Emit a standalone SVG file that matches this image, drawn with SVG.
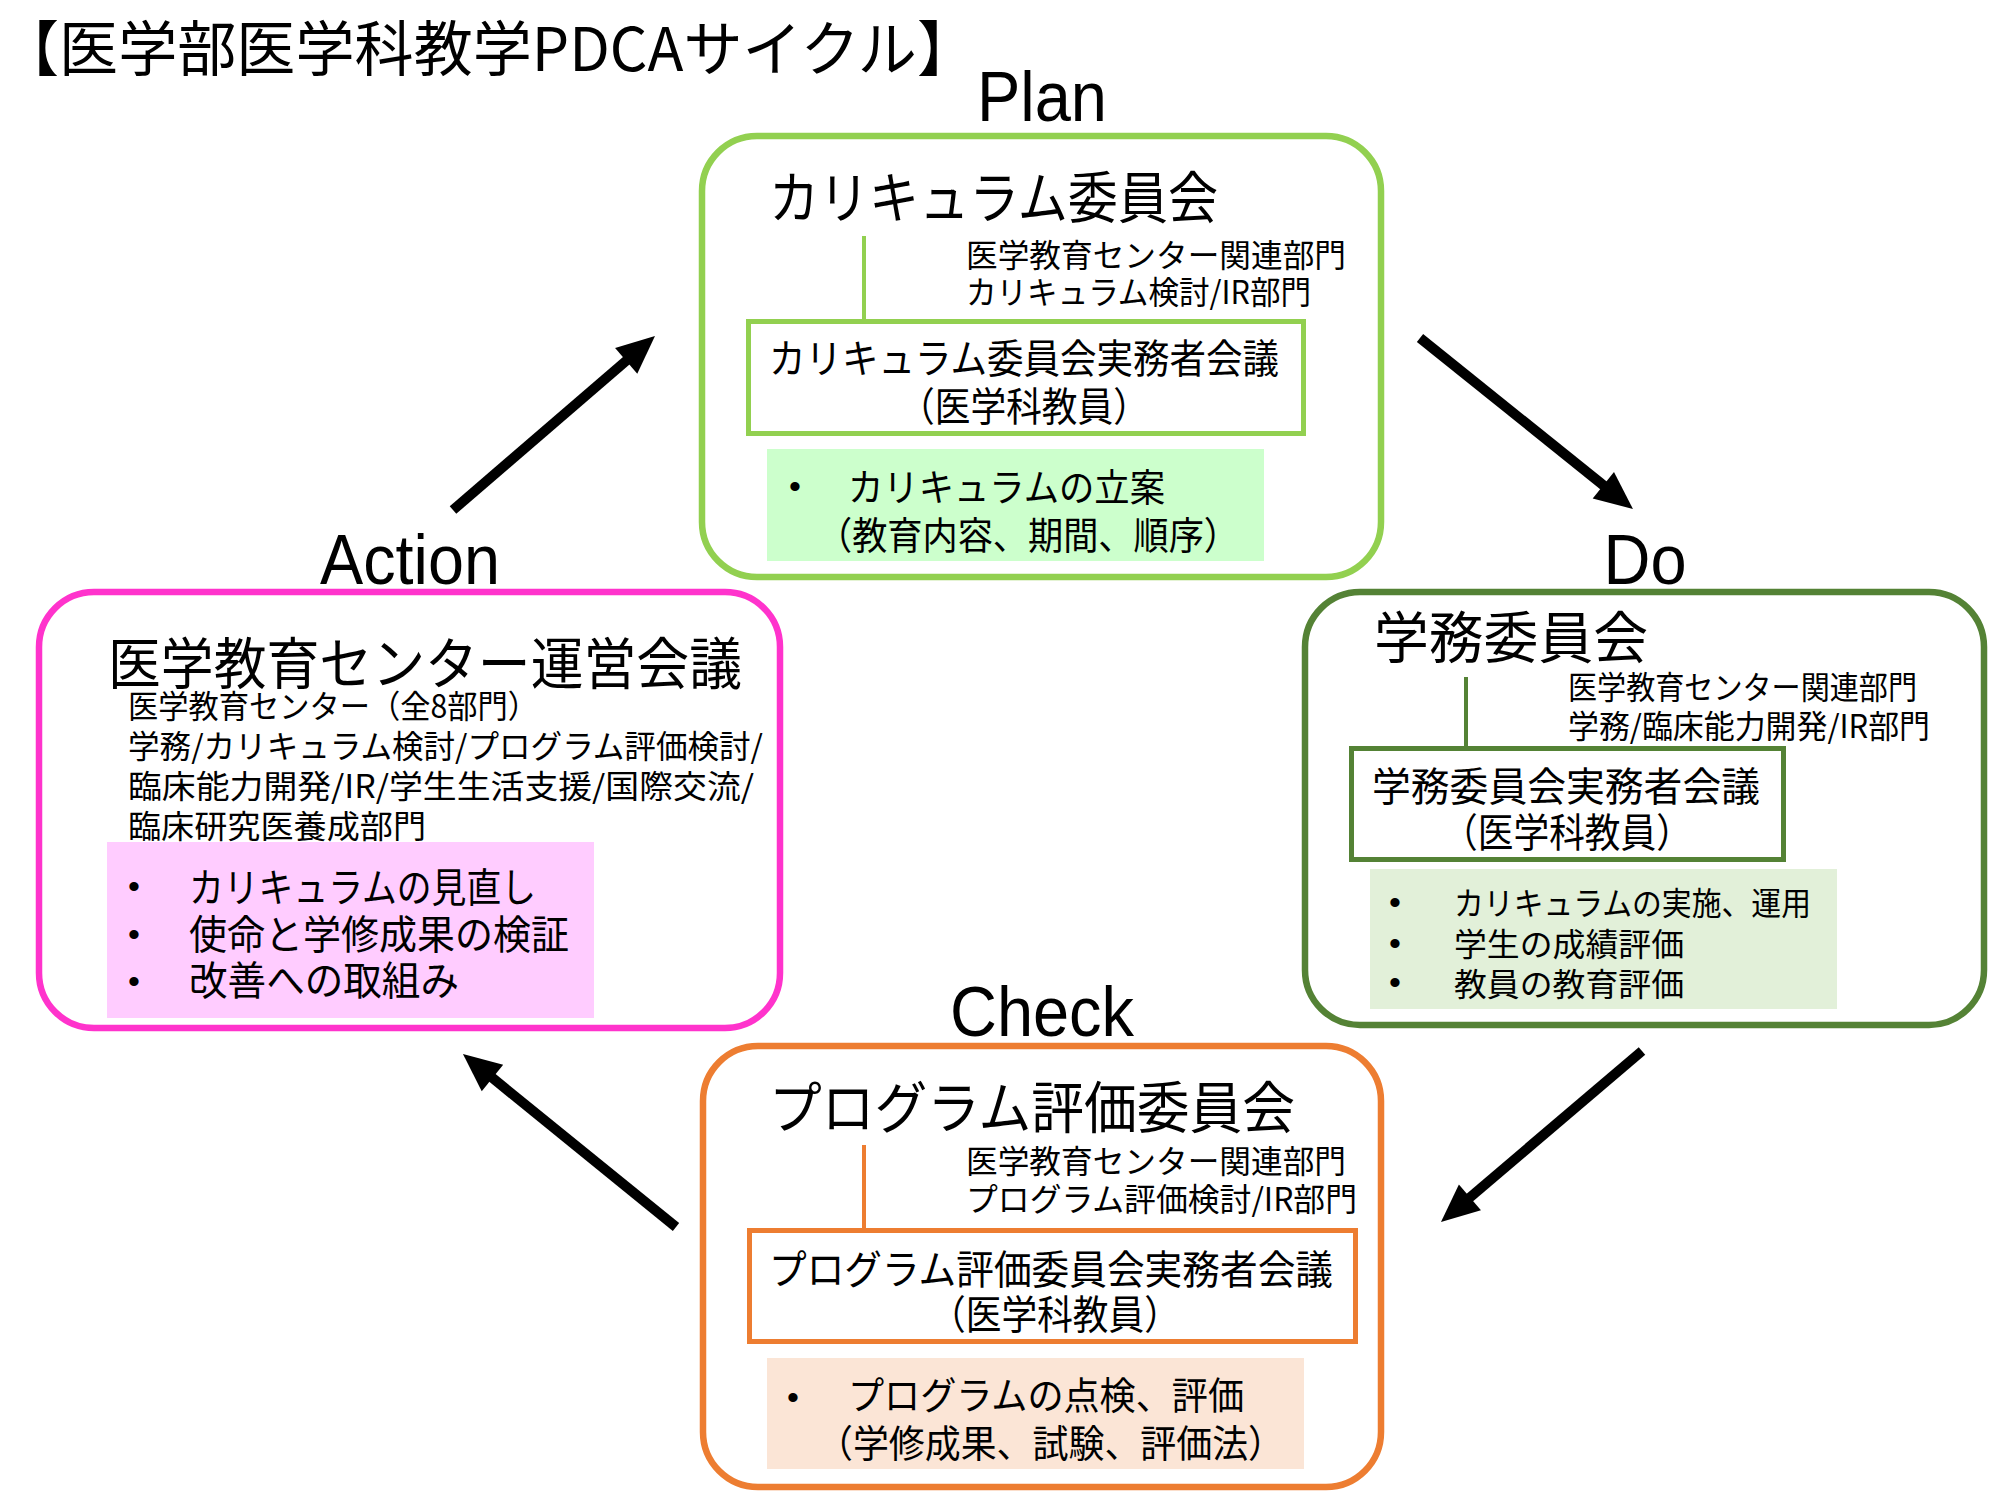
<svg xmlns="http://www.w3.org/2000/svg" width="2000" height="1500" viewBox="0 0 2000 1500">
<style>
text{font-family:"Noto Sans CJK JP","Liberation Sans",sans-serif;fill:#000}
.lat{font-family:"Liberation Sans",Arial,sans-serif;font-size:70px}
.title{font-size:60px}
.com{font-size:56px}
.dept{font-size:32px}
.inner{font-size:40px}
.item{font-size:38px}
.bul{font-family:"Liberation Sans",Arial,sans-serif;font-size:34px;text-anchor:middle}
.mid{text-anchor:middle}
.outer{fill:#fff;stroke-width:6.5}
.box{fill:#fff;stroke-width:5}
.arrow{stroke:#000;stroke-width:10;fill:none;marker-end:url(#ah)}
</style>
<defs>
<marker id="ah" markerUnits="strokeWidth" markerWidth="4" markerHeight="3.4" refX="0.2" refY="1.7" orient="auto" overflow="visible">
<path d="M0,0 L3.8,1.7 L0,3.4 z" fill="#000"/>
</marker>
</defs>
<rect width="2000" height="1500" fill="#fff"/>
<text class="title" x="0" y="71" textLength="976" lengthAdjust="spacingAndGlyphs">【医学部医学科教学PDCAサイクル】</text>

<g id="plan">
<text class="lat mid" x="1042" y="121" textLength="130" lengthAdjust="spacingAndGlyphs">Plan</text>
<rect class="outer" x="702" y="136" width="679" height="441" rx="55" stroke="#92D050"/>
<text class="com" x="769" y="218" textLength="449" lengthAdjust="spacingAndGlyphs">カリキュラム委員会</text>
<line x1="864" y1="236" x2="864" y2="320" stroke="#92D050" stroke-width="4"/>
<text class="dept" x="966" y="267" textLength="380" lengthAdjust="spacingAndGlyphs">医学教育センター関連部門</text>
<text class="dept" x="966" y="304" textLength="345" lengthAdjust="spacingAndGlyphs">カリキュラム検討/IR部門</text>
<rect class="box" x="748.5" y="321.5" width="555" height="112" stroke="#92D050"/>
<text class="inner" x="769" y="373" textLength="510" lengthAdjust="spacingAndGlyphs">カリキュラム委員会実務者会議</text>
<text class="inner mid" x="1024" y="421" textLength="250" lengthAdjust="spacingAndGlyphs">（医学科教員）</text>
<rect x="767" y="449" width="497" height="112" fill="#CCFFCC"/>
<text class="bul" x="795" y="498">•</text>
<text class="item" x="848" y="501" textLength="317" lengthAdjust="spacingAndGlyphs">カリキュラムの立案</text>
<text class="item" x="817" y="549" textLength="422" lengthAdjust="spacingAndGlyphs">（教育内容、期間、順序）</text>
</g>

<g id="do">
<text class="lat mid" x="1645" y="584" textLength="83" lengthAdjust="spacingAndGlyphs">Do</text>
<rect class="outer" x="1305" y="592" width="679" height="433" rx="55" stroke="#548235"/>
<text class="com" x="1374" y="658" textLength="274" lengthAdjust="spacingAndGlyphs">学務委員会</text>
<line x1="1466" y1="677" x2="1466" y2="747" stroke="#548235" stroke-width="4"/>
<text class="dept" x="1568" y="699" textLength="349" lengthAdjust="spacingAndGlyphs">医学教育センター関連部門</text>
<text class="dept" x="1568" y="738" textLength="362" lengthAdjust="spacingAndGlyphs">学務/臨床能力開発/IR部門</text>
<rect class="box" x="1351.5" y="748.5" width="432" height="111" stroke="#548235"/>
<text class="inner" x="1372" y="801" textLength="388" lengthAdjust="spacingAndGlyphs">学務委員会実務者会議</text>
<text class="inner mid" x="1567" y="847" textLength="250" lengthAdjust="spacingAndGlyphs">（医学科教員）</text>
<rect x="1370" y="869" width="467" height="140" fill="#E2F0D9"/>
<text class="bul" x="1395" y="914">•</text>
<text class="bul" x="1395" y="955">•</text>
<text class="bul" x="1395" y="994">•</text>
<text class="dept" x="1454" y="915" font-size="34" textLength="357" lengthAdjust="spacingAndGlyphs">カリキュラムの実施、運用</text>
<text class="dept" x="1454" y="956" font-size="34" textLength="230" lengthAdjust="spacingAndGlyphs">学生の成績評価</text>
<text class="dept" x="1454" y="996" font-size="34" textLength="230" lengthAdjust="spacingAndGlyphs">教員の教育評価</text>
</g>

<g id="check">
<text class="lat mid" x="1042" y="1036" textLength="184" lengthAdjust="spacingAndGlyphs">Check</text>
<rect class="outer" x="703" y="1046" width="678" height="441" rx="55" stroke="#ED7D31"/>
<text class="com" x="769" y="1128" textLength="526" lengthAdjust="spacingAndGlyphs">プログラム評価委員会</text>
<line x1="864" y1="1145" x2="864" y2="1229" stroke="#ED7D31" stroke-width="4"/>
<text class="dept" x="966" y="1173" textLength="380" lengthAdjust="spacingAndGlyphs">医学教育センター関連部門</text>
<text class="dept" x="966" y="1211" textLength="391" lengthAdjust="spacingAndGlyphs">プログラム評価検討/IR部門</text>
<rect class="box" x="749.5" y="1230.5" width="606" height="111" stroke="#ED7D31"/>
<text class="inner" x="769" y="1284" textLength="564" lengthAdjust="spacingAndGlyphs">プログラム評価委員会実務者会議</text>
<text class="inner mid" x="1055" y="1329" textLength="250" lengthAdjust="spacingAndGlyphs">（医学科教員）</text>
<rect x="767" y="1358" width="537" height="111" fill="#FBE5D6"/>
<text class="bul" x="793" y="1409">•</text>
<text class="item" x="848" y="1409" textLength="396" lengthAdjust="spacingAndGlyphs">プログラムの点検、評価</text>
<text class="item" x="817" y="1457" textLength="467" lengthAdjust="spacingAndGlyphs">（学修成果、試験、評価法）</text>
</g>

<g id="action">
<text class="lat mid" x="410" y="584" textLength="180" lengthAdjust="spacingAndGlyphs">Action</text>
<rect class="outer" x="39" y="592" width="741" height="436" rx="55" stroke="#FF33CC"/>
<text class="com" x="108" y="684" textLength="634" lengthAdjust="spacingAndGlyphs">医学教育センター運営会議</text>
<text class="dept" x="128" y="718" font-size="33" textLength="410" lengthAdjust="spacingAndGlyphs">医学教育センター（全8部門）</text>
<text class="dept" x="128" y="758" font-size="33" textLength="635" lengthAdjust="spacingAndGlyphs">学務/カリキュラム検討/プログラム評価検討/</text>
<text class="dept" x="128" y="798" font-size="33" textLength="626" lengthAdjust="spacingAndGlyphs">臨床能力開発/IR/学生生活支援/国際交流/</text>
<text class="dept" x="128" y="838" font-size="33" textLength="298" lengthAdjust="spacingAndGlyphs">臨床研究医養成部門</text>
<rect x="107" y="842" width="487" height="176" fill="#FFCCFF"/>
<text class="bul" x="134" y="898">•</text>
<text class="bul" x="134" y="946">•</text>
<text class="bul" x="134" y="993">•</text>
<text class="inner" x="189" y="902" textLength="347" lengthAdjust="spacingAndGlyphs">カリキュラムの見直し</text>
<text class="inner" x="189" y="949" textLength="380" lengthAdjust="spacingAndGlyphs">使命と学修成果の検証</text>
<text class="inner" x="189" y="995" textLength="270" lengthAdjust="spacingAndGlyphs">改善への取組み</text>
</g>

<g id="connectors">
<line class="arrow" x1="453" y1="510" x2="627.7" y2="359.5"/>
<line class="arrow" x1="1420" y1="338" x2="1604.9" y2="486.5"/>
<line class="arrow" x1="1642" y1="1051" x2="1468.4" y2="1198.7"/>
<line class="arrow" x1="676" y1="1227" x2="490.9" y2="1076.7"/>
</g>
</svg>
